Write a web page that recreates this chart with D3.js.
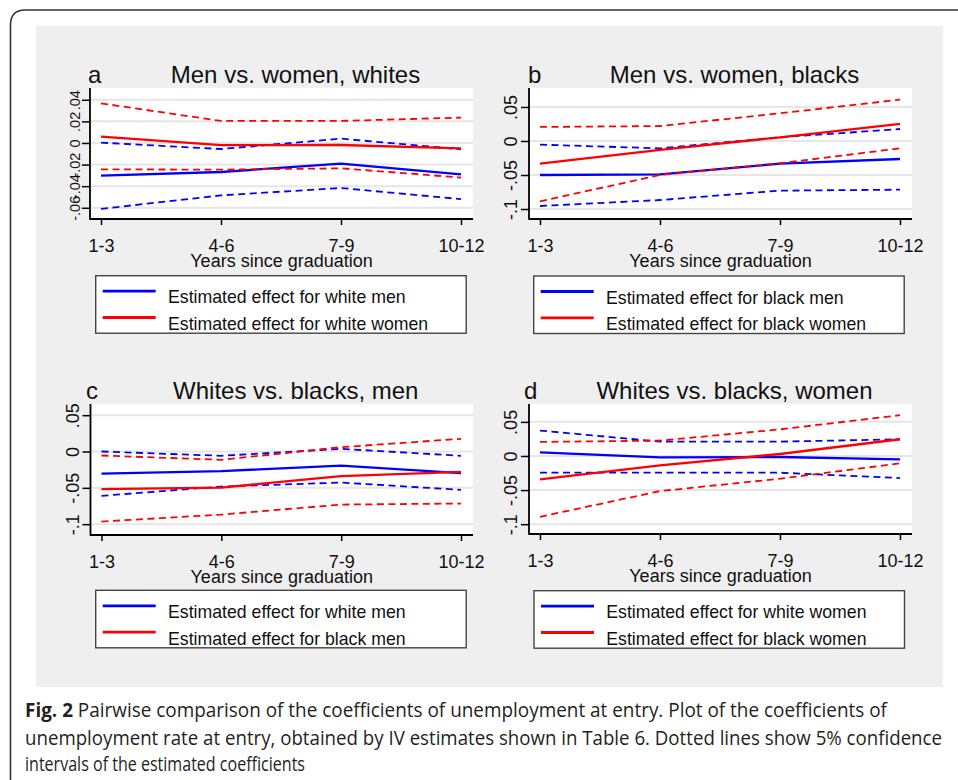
<!DOCTYPE html>
<html>
<head>
<meta charset="utf-8">
<script src="https://cdn.jsdelivr.net/npm/d3@7/dist/d3.min.js"></script>
<style>
  html, body { margin: 0; padding: 0; background: #ffffff; }
  svg { display: block; }
</style>
</head>
<body>
<script>
// ---------------- DATA ----------------
const categories = ["1-3", "4-6", "7-9", "10-12"];

// Panel a: Men vs. women, whites
const aWhiteMen      = [-0.0302, -0.0269, -0.0191, -0.0290];
const aWhiteMenLo    = [-0.0610, -0.0485, -0.0417, -0.0520];
const aWhiteMenHi    = [ 0.0003, -0.0056,  0.0040, -0.0059];
const aWhiteWomen    = [ 0.0058, -0.0020, -0.0019, -0.0050];
const aWhiteWomenLo  = [-0.0244, -0.0247, -0.0235, -0.0320];
const aWhiteWomenHi  = [ 0.0367,  0.0204,  0.0204,  0.0235];

// Panel b: Men vs. women, blacks
const bBlackMen      = [-0.0500, -0.0490, -0.0333, -0.0265];
const bBlackMenLo    = [-0.0956, -0.0868, -0.0730, -0.0716];
const bBlackMenHi    = [-0.0054, -0.0108,  0.0054,  0.0176];
const bBlackWomen    = [-0.0333, -0.0132,  0.0054,  0.0250];
const bBlackWomenLo  = [-0.0887, -0.0500, -0.0328, -0.0108];
const bBlackWomenHi  = [ 0.0206,  0.0220,  0.0407,  0.0608];

// Panel c: Whites vs. blacks, men
const cWhiteMen      = [-0.0303, -0.0270, -0.0193, -0.0298];
const cWhiteMenLo    = [-0.0610, -0.0482, -0.0427, -0.0528];
const cWhiteMenHi    = [ 0.0000, -0.0059,  0.0037, -0.0059];
const cBlackMen      = [-0.0518, -0.0496, -0.0339, -0.0280];
const cBlackMenLo    = [-0.0964, -0.0868, -0.0730, -0.0716];
const cBlackMenHi    = [-0.0055, -0.0114,  0.0060,  0.0175];

// Panel d: Whites vs. blacks, women
const dWhiteWomen    = [ 0.0054, -0.0020, -0.0015, -0.0049];
const dWhiteWomenLo  = [-0.0245, -0.0245, -0.0245, -0.0324];
const dWhiteWomenHi  = [ 0.0373,  0.0210,  0.0210,  0.0245];
const dBlackWomen    = [-0.0343, -0.0137,  0.0029,  0.0245];
const dBlackWomenLo  = [-0.0892, -0.0515, -0.0333, -0.0108];
const dBlackWomenHi  = [ 0.0206,  0.0225,  0.0390,  0.0598];

// Tick values and labels
const yTicksA  = [-0.06, -0.04, -0.02, 0, 0.02, 0.04];
const yLabelsA = ["-.06", "-.04", "-.02", "0", ".02", ".04"];
const yTicksB  = [-0.1, -0.05, 0, 0.05];
const yLabelsB = ["-.1", "-.05", "0", ".05"];

const panelLetters = ["a", "b", "c", "d"];
const panelTitles = ["Men vs. women, whites", "Men vs. women, blacks",
                     "Whites vs. blacks, men", "Whites vs. blacks, women"];
const legendA = ["Estimated effect for white men", "Estimated effect for white women"];
const legendB = ["Estimated effect for black men", "Estimated effect for black women"];
const legendC = ["Estimated effect for white men", "Estimated effect for black men"];
const legendD = ["Estimated effect for white women", "Estimated effect for black women"];
const xAxisTitle = "Years since graduation";

const captionBold = "Fig. 2";
const captionLines = [
  " Pairwise comparison of the coefficients of unemployment at entry. Plot of the coefficients of",
  "unemployment rate at entry, obtained by IV estimates shown in Table 6. Dotted lines show 5% confidence",
  "intervals of the estimated coefficients"
];

// ---------------- LAYOUT ----------------
const W = 958, H = 780;
const BLUE = "#0000ff", RED = "#ff0000";
const FONT = "'Liberation Sans', Arial, Helvetica, sans-serif";

const panels = [
  { letter: panelLetters[0], title: panelTitles[0], x0: 90, x1: 473, y0: 88, y1: 219,
    domain: [-0.0704, 0.0509], ticks: yTicksA, labels: yLabelsA, tickFont: 14.5, labOff: 10,
    blue: [aWhiteMen, aWhiteMenLo, aWhiteMenHi], red: [aWhiteWomen, aWhiteWomenLo, aWhiteWomenHi],
    legend: legendA, lx: 95.7, ly: 275.7, letterX: 88 },
  { letter: panelLetters[1], title: panelTitles[1], x0: 529, x1: 912, y0: 88, y1: 219,
    domain: [-0.1147, 0.0779], ticks: yTicksB, labels: yLabelsB, tickFont: 18, labOff: 12,
    blue: [bBlackMen, bBlackMenLo, bBlackMenHi], red: [bBlackWomen, bBlackWomenLo, bBlackWomenHi],
    legend: legendB, lx: 533.7, ly: 276, letterX: 528 },
  { letter: panelLetters[2], title: panelTitles[2], x0: 90.5, x1: 473, y0: 404, y1: 535,
    domain: [-0.1149, 0.0654], ticks: yTicksB, labels: yLabelsB, tickFont: 18, labOff: 12,
    blue: [cWhiteMen, cWhiteMenLo, cWhiteMenHi], red: [cBlackMen, cBlackMenLo, cBlackMenHi],
    legend: legendC, lx: 95.7, ly: 590.3, letterX: 86 },
  { letter: panelLetters[3], title: panelTitles[3], x0: 529, x1: 912, y0: 404, y1: 534,
    domain: [-0.1144, 0.0762], ticks: yTicksB, labels: yLabelsB, tickFont: 18, labOff: 12,
    blue: [dWhiteWomen, dWhiteWomenLo, dWhiteWomenHi], red: [dBlackWomen, dBlackWomenLo, dBlackWomenHi],
    legend: legendD, lx: 534, ly: 590.7, letterX: 524 }
];

const svg = d3.select("body").append("svg")
  .attr("width", W).attr("height", H)
  .attr("font-family", FONT);

// outer frame (rounded top-left corner)
svg.append("path")
  .attr("d", `M10.5,${H + 5} L10.5,25 Q10.5,10 25,10 L${W + 5},10`)
  .attr("fill", "none").attr("stroke", "#333").attr("stroke-width", 1.6);

// gray graph region
svg.append("rect")
  .attr("x", 36).attr("y", 26).attr("width", 907).attr("height", 661)
  .attr("fill", "#efefef");

panels.forEach(p => {
  const g = svg.append("g");
  const x = d3.scalePoint().domain(categories).range([p.x0 + 11, p.x1 - 12]);
  const y = d3.scaleLinear().domain(p.domain).range([p.y1, p.y0]);

  // plot area
  g.append("rect").attr("x", p.x0).attr("y", p.y0)
    .attr("width", p.x1 - p.x0).attr("height", p.y1 - p.y0).attr("fill", "#ffffff");

  // gridlines
  g.selectAll(".grid").data(p.ticks).enter().append("line")
    .attr("x1", p.x0).attr("x2", p.x1)
    .attr("y1", d => y(d)).attr("y2", d => y(d))
    .attr("stroke", "#e6e6e6").attr("stroke-width", 2);

  // series
  const line = d3.line().x((d, i) => x(categories[i])).y(d => y(d));
  const drawSet = (arrs, color) => {
    [arrs[1], arrs[2]].forEach(a => {
      g.append("path").attr("d", line(a)).attr("fill", "none")
        .attr("stroke", color).attr("stroke-width", 1.8)
        .attr("stroke-dasharray", "7,4.5");
    });
    g.append("path").attr("d", line(arrs[0])).attr("fill", "none")
      .attr("stroke", color).attr("stroke-width", 2.3);
  };
  drawSet(p.blue, BLUE);
  drawSet(p.red, RED);

  // y axis
  const yAxis = d3.axisLeft(y).tickValues(p.ticks)
    .tickFormat((d, i) => p.labels[i]).tickSize(8).tickSizeOuter(0);
  const ya = g.append("g").attr("transform", `translate(${p.x0},0)`).call(yAxis);
  ya.select(".domain").remove();
  ya.selectAll(".tick line").attr("stroke", "#000").attr("stroke-width", 1.5);
  ya.selectAll(".tick text")
    .attr("font-size", p.tickFont).attr("fill", "#111")
    .attr("transform", null).attr("x", null).attr("dy", null)
    .attr("text-anchor", "middle")
    .each(function () {
      const t = d3.select(this);
      t.attr("transform", `translate(${-p.labOff},0) rotate(-90)`).attr("x", 0).attr("y", 0);
    });
  g.append("line").attr("x1", p.x0).attr("x2", p.x0)
    .attr("y1", p.y0).attr("y2", p.y1 + 0.75).attr("stroke", "#000").attr("stroke-width", 1.8);

  // x axis
  const xAxis = d3.axisBottom(x).tickSize(6).tickSizeOuter(0);
  const xa = g.append("g").attr("transform", `translate(0,${p.y1})`).call(xAxis);
  xa.select(".domain").remove();
  xa.selectAll(".tick line").attr("stroke", "#000").attr("stroke-width", 1.5);
  xa.selectAll(".tick text").attr("font-size", 18).attr("fill", "#111")
    .attr("y", 33).attr("dy", null);
  g.append("line").attr("x1", p.x0).attr("x2", p.x1)
    .attr("y1", p.y1).attr("y2", p.y1).attr("stroke", "#000").attr("stroke-width", 1.8);

  // axis title
  g.append("text").attr("x", (p.x0 + p.x1) / 2).attr("y", p.y1 + 48)
    .attr("text-anchor", "middle").attr("font-size", 18).attr("fill", "#111")
    .text(xAxisTitle);

  // title & letter
  g.append("text").attr("x", (p.x0 + p.x1) / 2 + 14).attr("y", p.y0 - 5.5)
    .attr("text-anchor", "middle").attr("font-size", 24).attr("fill", "#111")
    .text(p.title);
  g.append("text").attr("x", p.letterX).attr("y", p.y0 - 5.5)
    .attr("font-size", 24).attr("fill", "#111").text(p.letter);

  // legend
  const lg = g.append("g").attr("transform", `translate(${p.lx},${p.ly})`);
  lg.append("rect").attr("x", 0).attr("y", 0).attr("width", 370.5).attr("height", 57.5)
    .attr("fill", "#ffffff").attr("stroke", "#444").attr("stroke-width", 1.4);
  [BLUE, RED].forEach((c, i) => {
    lg.append("line").attr("x1", 7).attr("x2", 60)
      .attr("y1", 15.5 + i * 26.3).attr("y2", 15.5 + i * 26.3)
      .attr("stroke", c).attr("stroke-width", 2.8);
    lg.append("text").attr("x", 72.3).attr("y", 27.6 + i * 26.7)
      .attr("font-size", 17.7).attr("fill", "#111").text(p.legend[i]);
  });
});

// caption
const CAPFONT = "'Open Sans', 'Noto Sans', sans-serif";
const capEnds = [887, 942, 305];
const capBase = [717, 744.5, 771];
captionLines.forEach((ln, i) => {
  const t = svg.append("text").attr("x", 25).attr("y", capBase[i])
    .attr("font-family", CAPFONT).attr("font-size", 19.5).attr("fill", "#231f20")
    .attr("textLength", capEnds[i] - 25).attr("lengthAdjust", "spacingAndGlyphs");
  if (i === 0) {
    t.append("tspan").attr("font-weight", "bold").text(captionBold);
  }
  t.append("tspan").text(ln);
});
</script>
</body>
</html>
